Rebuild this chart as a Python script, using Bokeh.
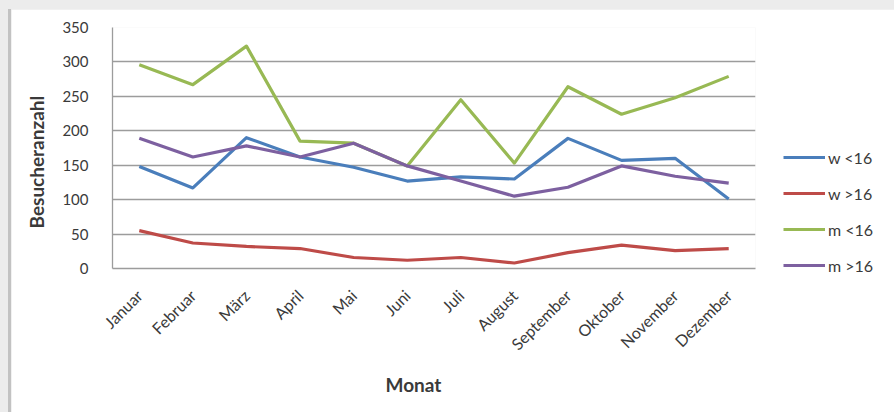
import math
from bokeh.plotting import figure
from bokeh.models import (FactorRange, Range1d, FixedTicker, Legend, LegendItem,
                          Title, GlobalInlineStyleSheet)
from bokeh.embed import file_html
from bokeh.resources import INLINE

months = ["Januar", "Februar", "März", "April", "Mai", "Juni", "Juli",
          "August", "September", "Oktober", "November", "Dezember"]
w_under16 = [148, 117, 190, 162, 147, 127, 133, 130, 189, 157, 160, 101]
w_over16 = [55, 37, 32, 29, 16, 12, 16, 8, 23, 34, 26, 29]
m_under16 = [296, 267, 323, 185, 182, 149, 245, 153, 264, 224, 248, 279]
m_over16 = [189, 162, 178, 162, 182, 149, 127, 105, 118, 149, 134, 124]
series_names = ["w <16", "w >16", "m <16", "m >16"]
y_ticks = [0, 50, 100, 150, 200, 250, 300, 350]
colors = ["#4a7ebb", "#be4b48", "#98b954", "#7d60a0"]

FONT = "Lato"
TXT = "#3a3a3a"

p = figure(x_range=FactorRange(factors=months, range_padding=0),
           y_range=Range1d(0, 350),
           frame_width=643, frame_height=241,
           output_backend="svg", toolbar_location=None,
           min_border_left=101, min_border_right=139, min_border_top=18,
           min_border_bottom=144,
           background_fill_color="white", border_fill_color="white",
           outline_line_color=None,
           styles={"border-left": "3px solid #c2c2c2", "margin-left": "8px",
                   "margin-top": "9px"},
           stylesheets=[GlobalInlineStyleSheet(css="html,body{background:#ececec;overflow:hidden;}")])

renderers = []
for vals, c in zip([w_under16, w_over16, m_under16, m_over16], colors):
    r = p.line(months, vals, line_color=c, line_width=3.2, line_join="round")
    renderers.append(r)

p.yaxis.ticker = FixedTicker(ticks=y_ticks)
p.ygrid.ticker = FixedTicker(ticks=y_ticks)
p.ygrid.grid_line_color = "#9c9c9c"
p.ygrid.grid_line_width = 1.3
p.xgrid.grid_line_color = None

for ax in (p.xaxis, p.yaxis):
    ax.axis_line_color = "#9c9c9c"
    ax.axis_line_width = 1.3
    ax.major_tick_line_color = None
    ax.minor_tick_line_color = None
    ax.major_label_text_font = FONT
    ax.major_label_text_font_size = "15px"
    ax.major_label_text_color = TXT

p.yaxis.major_label_standoff = 18
p.xaxis.major_label_orientation = math.pi / 4
p.xaxis.major_label_standoff = 18
p.xaxis.major_label_text_font_size = "16px"

legend = Legend(items=[LegendItem(label=n, renderers=[r]) for n, r in zip(series_names, renderers)],
                location=(28, -7), glyph_width=42, glyph_height=20, label_height=20,
                spacing=16, label_standoff=3, padding=0, margin=0,
                border_line_color=None, background_fill_color=None,
                label_text_font=FONT, label_text_font_size="16px", label_text_color=TXT)
p.add_layout(legend, "right")

p.add_layout(Title(text="Besucheranzahl", align="left", offset=40, standoff=23,
                   text_font=FONT, text_font_size="19px", text_font_style="bold",
                   text_color=TXT), "left")
p.add_layout(Title(text="Monat", align="left", offset=273, standoff=14,
                   text_font=FONT, text_font_size="19px", text_font_style="bold",
                   text_color=TXT), "below")

open("out.html", "w").write(file_html(p, INLINE))
